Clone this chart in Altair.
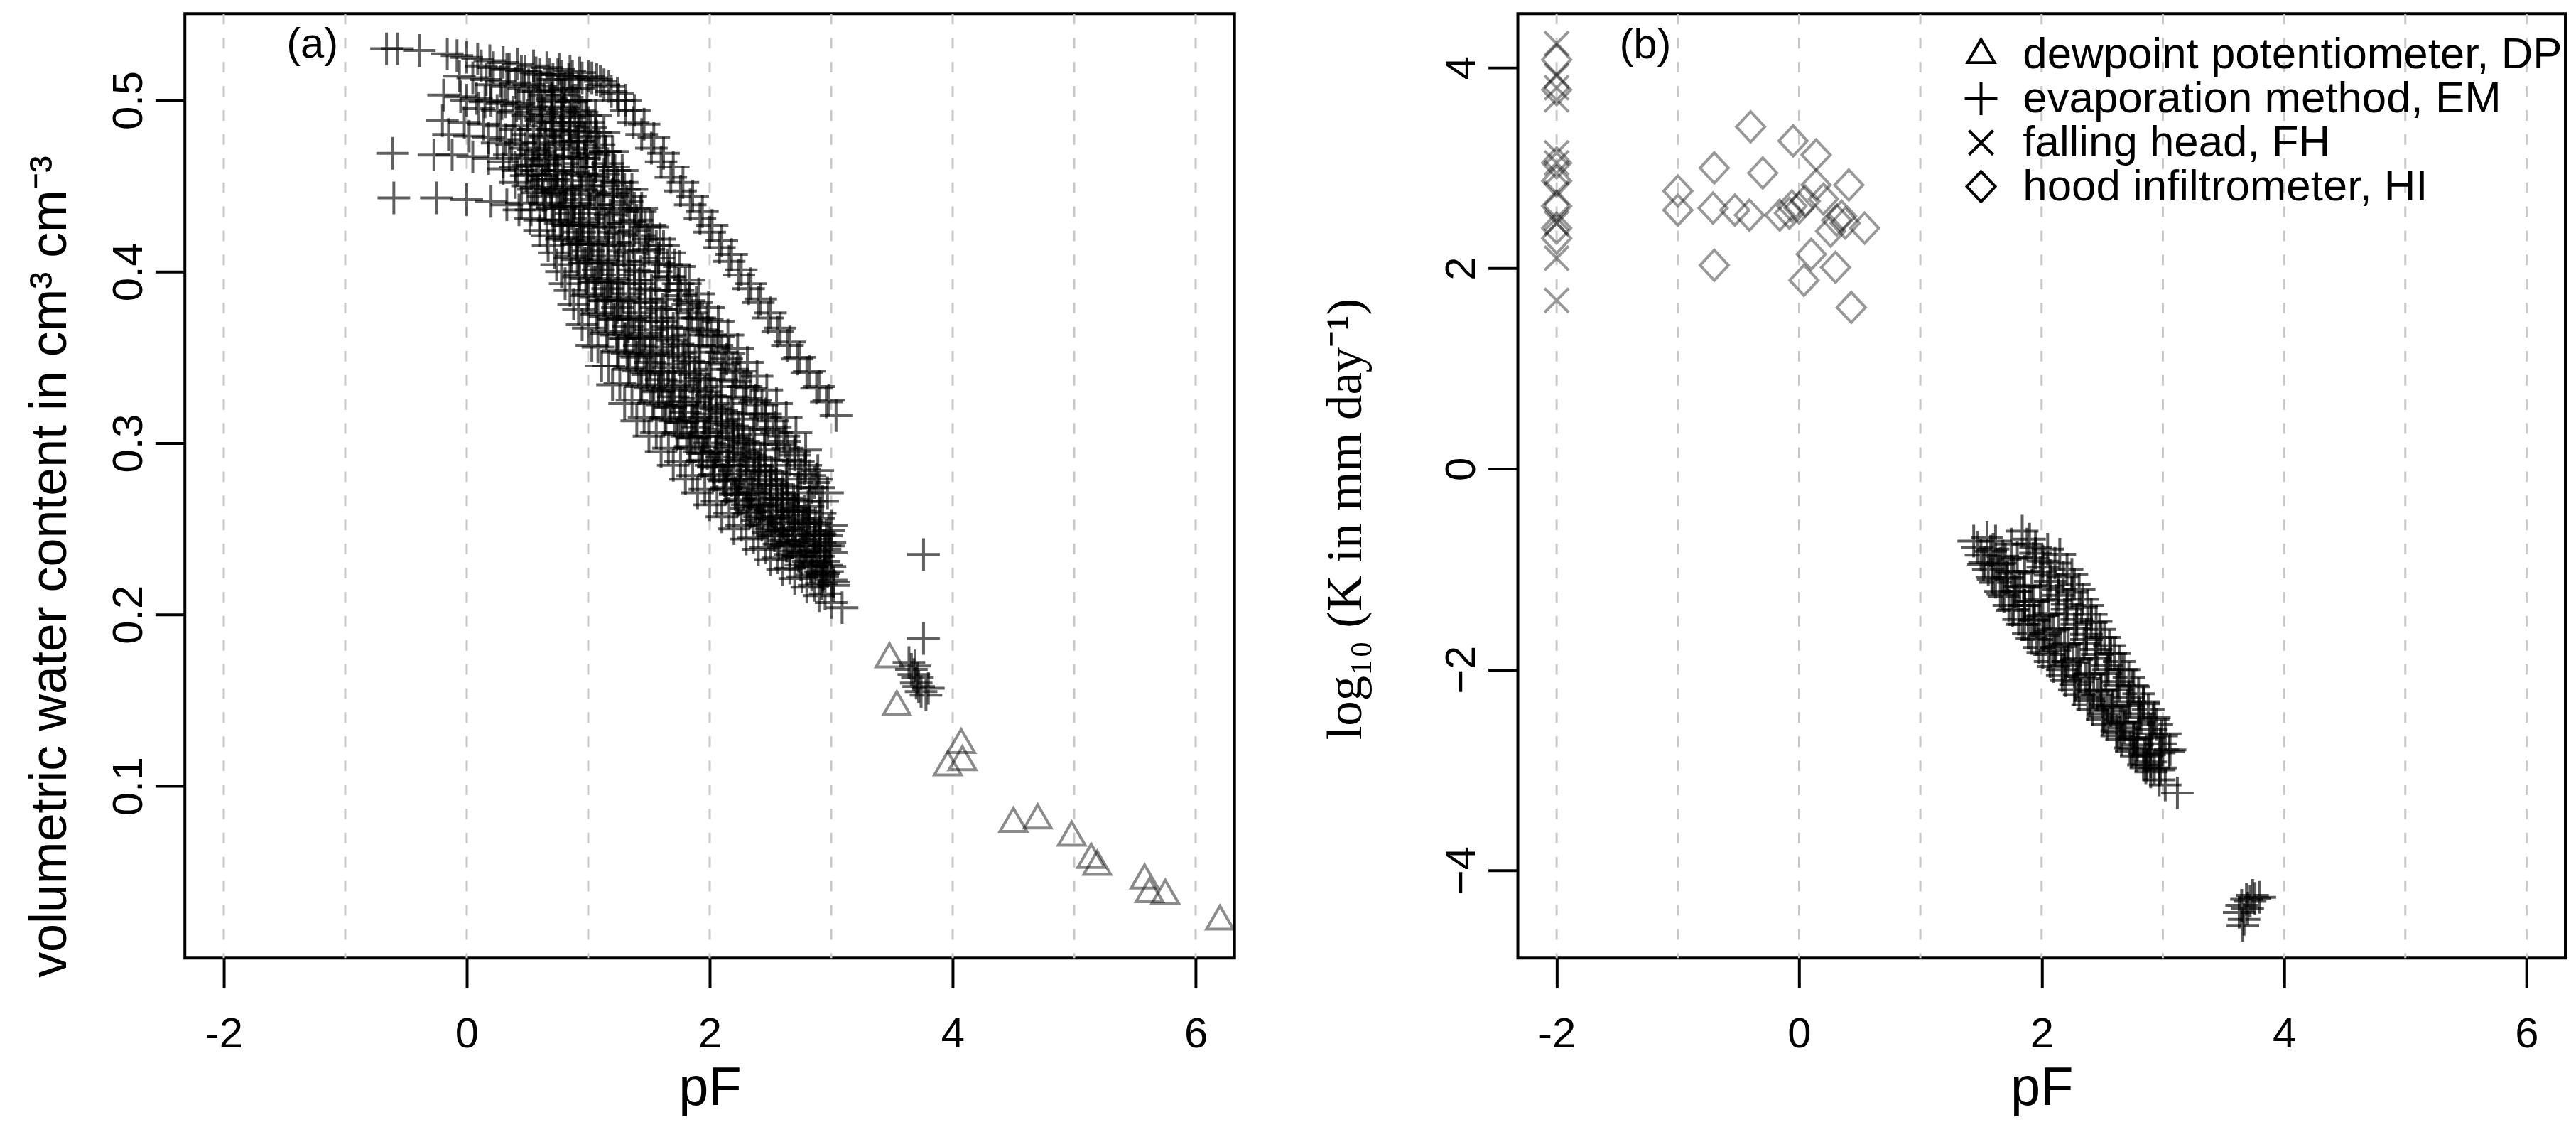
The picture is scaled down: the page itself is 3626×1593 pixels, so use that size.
import altair as alt
import pandas as pd

# ---------------- axes / labels ----------------
grid_pf = [-2, -1, 0, 1, 2, 3, 4, 5, 6]
x_ticks = [-2, 0, 2, 4, 6]
theta_ticks = [0.1, 0.2, 0.3, 0.4, 0.5]
logk_ticks = [-4, -2, 0, 2, 4]
methods = ["dewpoint potentiometer, DP", "evaporation method, EM",
           "falling head, FH", "hood infiltrometer, HI"]
panel_a_tag = ["(a)"]
panel_b_tag = ["(b)"]

# ---------------- panel (a): evaporation method retention curves (pF, theta) ----------------
em_a_c1 = [(-0.66, .530), (-0.57, .530), (-0.39, .529), (-0.16, .527), (-0.08, .526), (0.00, .525),
           (0.09, .524), (0.19, .523), (0.30, .522), (0.42, .521), (0.55, .520), (0.66, .519),
           (0.76, .518), (0.85, .517), (0.93, .516), (1.00, .514), (1.07, .512), (1.13, .509),
           (1.19, .505), (1.25, .500), (1.31, .494), (1.37, .487), (1.44, .480), (1.52, .472),
           (1.60, .464), (1.68, .455), (1.76, .447), (1.84, .439), (1.92, .431), (2.00, .423),
           (2.08, .414), (2.16, .406), (2.24, .398), (2.32, .390), (2.40, .382), (2.48, .373),
           (2.56, .365), (2.64, .357), (2.72, .349), (2.80, .341), (2.88, .332), (2.96, .324),
           (3.04, .316)]
em_a_c2 = [(0.12, .520), (0.22, .519), (0.33, .518), (0.45, .517), (0.57, .516), (0.68, .515),
           (0.78, .514), (0.87, .514), (0.95, .513), (1.03, .513), (1.10, .511), (1.17, .508),
           (1.24, .504), (1.31, .500), (1.38, .494), (1.46, .486), (1.54, .478), (1.62, .469),
           (1.70, .461), (1.78, .452), (1.86, .444), (1.94, .435), (2.02, .427), (2.10, .418),
           (2.18, .410), (2.26, .401), (2.34, .393), (2.42, .384), (2.50, .376), (2.58, .367),
           (2.66, .359), (2.74, .350), (2.82, .342), (2.90, .333), (2.98, .325)]
em_a_c3 = [(-0.06, .514), (0.05, .513), (0.16, .512), (0.28, .511), (0.40, .510), (0.51, .509),
           (0.61, .508), (0.70, .506), (0.78, .503), (0.86, .499), (0.93, .494), (1.00, .487),
           (1.07, .479), (1.14, .470), (1.21, .461), (1.28, .452), (1.35, .444), (1.43, .435),
           (1.51, .427), (1.59, .419), (1.67, .411), (1.75, .403), (1.83, .395), (1.91, .387),
           (1.99, .379), (2.07, .371), (2.15, .363), (2.23, .355), (2.31, .347), (2.39, .339),
           (2.47, .331), (2.55, .323), (2.63, .315), (2.71, .306), (2.79, .296), (2.89, .284)]
em_a_c4 = [(-0.19, .503), (-0.05, .502), (0.08, .501), (0.20, .500), (0.32, .499), (0.43, .498),
           (0.53, .496), (0.62, .494), (0.70, .491), (0.78, .487), (0.85, .482), (0.92, .476),
           (0.99, .469), (1.06, .461), (1.13, .453), (1.20, .445), (1.27, .437), (1.34, .429),
           (1.42, .421), (1.50, .413), (1.58, .405), (1.66, .397), (1.74, .389), (1.82, .381),
           (1.90, .373), (1.98, .365), (2.06, .357), (2.14, .349), (2.22, .341), (2.30, .333),
           (2.38, .325), (2.46, .317), (2.54, .309), (2.62, .301), (2.70, .293), (2.78, .285),
           (2.86, .277)]
em_a_c5 = [(-0.60, .443), (-0.25, .443), (0.00, .442), (0.20, .441), (0.33, .439), (0.43, .436),
           (0.52, .431), (0.60, .424), (0.67, .415), (0.74, .404), (0.81, .393), (0.88, .381),
           (0.95, .369), (1.03, .357), (1.11, .345), (1.20, .334), (1.30, .323), (1.40, .313),
           (1.50, .304), (1.60, .295), (1.70, .287), (1.80, .279), (1.90, .271), (2.00, .264),
           (2.10, .257), (2.20, .250), (2.30, .244), (2.40, .238), (2.50, .232), (2.60, .226),
           (2.70, .221), (2.80, .216), (2.90, .211), (3.00, .207), (3.09, .204)]
em_a_c6 = [(-0.61, .469), (-0.27, .468), (-0.12, .468), (0.05, .467), (0.18, .466), (0.30, .464),
           (0.40, .461), (0.49, .456), (0.57, .449), (0.64, .440), (0.71, .430), (0.78, .419),
           (0.85, .408), (0.92, .397), (0.99, .386), (1.07, .375), (1.15, .364), (1.24, .353),
           (1.33, .343), (1.43, .333), (1.53, .323), (1.63, .314), (1.73, .305), (1.83, .297),
           (1.93, .289), (2.03, .281), (2.13, .273), (2.23, .266), (2.33, .259), (2.43, .252),
           (2.53, .246), (2.63, .240), (2.73, .234), (2.83, .228), (2.93, .222), (3.02, .217)]
em_a_c7 = [(-0.20, .488), (-0.02, .487), (0.14, .486), (0.28, .485), (0.40, .483), (0.50, .480),
           (0.59, .475), (0.67, .468), (0.74, .459), (0.81, .449), (0.88, .438), (0.95, .427),
           (1.02, .416), (1.10, .405), (1.18, .394), (1.26, .383), (1.35, .372), (1.44, .362),
           (1.53, .352), (1.62, .342), (1.71, .333), (1.80, .324), (1.89, .315), (1.98, .306),
           (2.07, .298), (2.16, .290), (2.25, .282), (2.34, .274), (2.43, .267), (2.52, .260),
           (2.61, .253), (2.70, .246), (2.79, .240), (2.88, .234), (2.96, .229)]
em_a_c8 = [(-0.15, .480), (0.02, .479), (0.18, .478), (0.32, .477), (0.44, .475), (0.55, .471),
           (0.64, .465), (0.72, .457), (0.79, .448), (0.86, .438), (0.93, .427), (1.00, .416),
           (1.08, .405), (1.16, .394), (1.24, .383), (1.33, .372), (1.42, .361), (1.51, .351),
           (1.60, .341), (1.69, .331), (1.78, .322), (1.87, .313), (1.96, .304), (2.05, .295),
           (2.14, .287), (2.23, .279), (2.32, .271), (2.41, .263), (2.50, .256), (2.59, .249),
           (2.68, .242), (2.77, .236), (2.86, .230), (2.94, .224)]
em_a_c9 = [(0.00, .500), (0.15, .499), (0.29, .498), (0.41, .497), (0.52, .495), (0.62, .492),
           (0.71, .487), (0.79, .480), (0.86, .471), (0.93, .461), (1.00, .450), (1.07, .439),
           (1.14, .428), (1.22, .417), (1.30, .406), (1.38, .395), (1.47, .384), (1.56, .373),
           (1.65, .362), (1.74, .352), (1.83, .342), (1.92, .332), (2.01, .322), (2.10, .313),
           (2.19, .304), (2.28, .295), (2.37, .287), (2.46, .279), (2.55, .271), (2.64, .263),
           (2.73, .256), (2.82, .249), (2.91, .242), (3.00, .236)]
em_a_c10 = [(0.10, .495), (0.25, .494), (0.38, .493), (0.50, .491), (0.61, .488), (0.71, .483),
            (0.80, .476), (0.88, .467), (0.95, .457), (1.02, .447), (1.09, .437), (1.17, .426),
            (1.25, .415), (1.33, .404), (1.42, .393), (1.51, .382), (1.60, .371), (1.69, .360),
            (1.78, .350), (1.87, .340), (1.96, .330), (2.05, .320), (2.14, .311), (2.23, .302),
            (2.32, .293), (2.41, .284), (2.50, .276), (2.59, .268), (2.68, .260), (2.77, .253),
            (2.86, .246), (2.95, .240)]
em_a_c11 = [(0.20, .509), (0.34, .508), (0.47, .507), (0.59, .505), (0.70, .501), (0.80, .495),
            (0.89, .487), (0.97, .478), (1.05, .468), (1.13, .457), (1.21, .446), (1.29, .435),
            (1.38, .424), (1.47, .412), (1.56, .400), (1.65, .389), (1.74, .378), (1.83, .367),
            (1.92, .357), (2.01, .347), (2.10, .337), (2.19, .327), (2.28, .317), (2.37, .308),
            (2.46, .299), (2.55, .290), (2.64, .282), (2.73, .274), (2.82, .266), (2.91, .259),
            (3.00, .252)]
em_a_c12 = [(0.30, .460), (0.42, .459), (0.53, .457), (0.62, .453), (0.70, .446), (0.77, .437),
            (0.84, .427), (0.91, .416), (0.98, .405), (1.06, .394), (1.14, .383), (1.22, .372),
            (1.31, .361), (1.40, .350), (1.49, .340), (1.58, .330), (1.67, .321), (1.76, .312),
            (1.85, .303), (1.94, .294), (2.03, .286), (2.12, .278), (2.21, .270), (2.30, .262),
            (2.39, .255), (2.48, .248), (2.57, .241), (2.66, .235), (2.75, .229), (2.84, .223),
            (2.92, .218)]
em_a_c13 = [(0.35, .518), (0.48, .517), (0.60, .515), (0.71, .512), (0.81, .507), (0.90, .500),
            (0.98, .491), (1.06, .481), (1.14, .470), (1.22, .459), (1.30, .448), (1.38, .437),
            (1.47, .426), (1.56, .415), (1.65, .404), (1.74, .393), (1.83, .383), (1.92, .373),
            (2.01, .363), (2.10, .353), (2.19, .343), (2.28, .333), (2.37, .324), (2.46, .315),
            (2.55, .306), (2.64, .297), (2.73, .289), (2.82, .281), (2.90, .274)]
em_a_c14 = [(0.40, .452), (0.50, .450), (0.58, .446), (0.65, .439), (0.72, .430), (0.79, .420),
            (0.86, .409), (0.93, .398), (1.00, .387), (1.08, .376), (1.16, .365), (1.25, .354),
            (1.34, .344), (1.44, .334), (1.54, .324), (1.64, .315), (1.74, .306), (1.84, .298),
            (1.94, .290), (2.04, .282), (2.14, .274), (2.24, .267), (2.34, .260), (2.44, .253),
            (2.54, .246), (2.64, .240), (2.74, .234), (2.84, .228), (2.93, .223), (3.02, .219)]
em_a_c15 = [(0.55, .505), (0.64, .503), (0.72, .499), (0.79, .493), (0.85, .485), (0.91, .476),
            (0.97, .466), (1.04, .455), (1.11, .444), (1.18, .433), (1.26, .422), (1.34, .411),
            (1.43, .400), (1.52, .389), (1.61, .378), (1.70, .367), (1.79, .357), (1.88, .347),
            (1.97, .337), (2.06, .327), (2.15, .318), (2.24, .309), (2.33, .300), (2.42, .291),
            (2.51, .283), (2.60, .275), (2.69, .267), (2.78, .260), (2.87, .253), (2.96, .246)]
em_a_c16 = [(0.25, .475), (0.37, .474), (0.48, .472), (0.57, .468), (0.65, .462), (0.72, .454),
            (0.79, .445), (0.86, .434), (0.93, .423), (1.00, .412), (1.08, .401), (1.16, .390),
            (1.24, .379), (1.33, .368), (1.42, .357), (1.51, .347), (1.60, .337), (1.70, .327),
            (1.80, .318), (1.90, .309), (2.00, .300), (2.10, .292), (2.20, .284), (2.30, .276),
            (2.40, .268), (2.50, .261), (2.60, .254), (2.70, .247), (2.80, .240), (2.90, .234),
            (2.99, .228)]
em_a_c17 = [(0.60, .490), (0.69, .487), (0.77, .482), (0.84, .475), (0.91, .466), (0.98, .456),
            (1.05, .445), (1.13, .434), (1.21, .423), (1.29, .412), (1.38, .401), (1.47, .390),
            (1.56, .379), (1.65, .368), (1.74, .358), (1.83, .348), (1.92, .338), (2.01, .328),
            (2.10, .319), (2.19, .310), (2.28, .301), (2.37, .292), (2.46, .284), (2.55, .276),
            (2.64, .268), (2.73, .261), (2.82, .254), (2.91, .247)]
em_a_c18 = [(0.45, .440), (0.53, .436), (0.60, .430), (0.66, .421), (0.72, .411), (0.78, .400),
            (0.85, .389), (0.92, .378), (1.00, .367), (1.08, .356), (1.17, .345), (1.26, .335),
            (1.36, .325), (1.46, .315), (1.56, .306), (1.66, .297), (1.76, .289), (1.86, .281),
            (1.96, .273), (2.06, .266), (2.16, .259), (2.26, .252), (2.36, .245), (2.46, .239),
            (2.56, .233), (2.66, .227), (2.76, .222), (2.86, .217), (2.95, .212)]
em_a_c19 = [(0.75, .515), (0.84, .512), (0.92, .507), (0.99, .500), (1.06, .491), (1.13, .481),
            (1.20, .470), (1.28, .459), (1.36, .448), (1.44, .437), (1.53, .426), (1.62, .415),
            (1.71, .404), (1.80, .393), (1.89, .382), (1.98, .372), (2.07, .362), (2.16, .352),
            (2.25, .342), (2.34, .332), (2.43, .322), (2.52, .313), (2.61, .304), (2.70, .295),
            (2.79, .287), (2.88, .279), (2.97, .271)]
em_a_c20 = [(0.65, .478), (0.73, .474), (0.80, .467), (0.87, .458), (0.94, .448), (1.01, .437),
            (1.09, .426), (1.17, .415), (1.25, .404), (1.34, .393), (1.43, .382), (1.52, .371),
            (1.61, .361), (1.70, .351), (1.80, .341), (1.90, .331), (2.00, .321), (2.10, .312),
            (2.20, .303), (2.30, .294), (2.40, .286), (2.50, .278), (2.60, .270), (2.70, .262),
            (2.80, .255), (2.90, .248), (2.99, .242)]
em_a_c21 = [(0.50, .462), (0.59, .459), (0.67, .454), (0.74, .447), (0.81, .438), (0.88, .428),
            (0.95, .417), (1.03, .406), (1.11, .395), (1.19, .384), (1.28, .373), (1.37, .362),
            (1.46, .352), (1.55, .342), (1.65, .332), (1.75, .322), (1.85, .313), (1.95, .304),
            (2.05, .295), (2.15, .287), (2.25, .279), (2.35, .271), (2.45, .264), (2.55, .257),
            (2.65, .250), (2.75, .243), (2.85, .237), (2.94, .231)]
em_a_c22 = [(0.70, .500), (0.78, .496), (0.85, .490), (0.92, .482), (0.99, .472), (1.06, .461),
            (1.13, .450), (1.21, .439), (1.29, .428), (1.37, .417), (1.46, .406), (1.55, .395),
            (1.64, .384), (1.73, .373), (1.82, .363), (1.91, .353), (2.00, .343), (2.09, .333),
            (2.18, .323), (2.27, .314), (2.36, .305), (2.45, .296), (2.54, .287), (2.63, .279),
            (2.72, .271), (2.81, .263), (2.90, .256), (2.98, .249)]
em_a_c23 = [(0.35, .468), (0.45, .466), (0.54, .462), (0.62, .456), (0.69, .448), (0.76, .438),
            (0.83, .427), (0.90, .416), (0.97, .405), (1.05, .394), (1.13, .383), (1.21, .372),
            (1.30, .361), (1.39, .351), (1.48, .341), (1.58, .331), (1.68, .321), (1.78, .312),
            (1.88, .303), (1.98, .294), (2.08, .286), (2.18, .278), (2.28, .270), (2.38, .263),
            (2.48, .256), (2.58, .249), (2.68, .242), (2.78, .236), (2.88, .230), (2.97, .225)]
em_a_c24 = [(0.45, .485), (0.55, .483), (0.64, .479), (0.72, .472), (0.79, .463), (0.86, .453),
            (0.93, .442), (1.00, .431), (1.08, .420), (1.16, .409), (1.24, .398), (1.33, .387),
            (1.42, .376), (1.51, .366), (1.60, .356), (1.70, .346), (1.80, .336), (1.90, .326),
            (2.00, .317), (2.10, .308), (2.20, .299), (2.30, .291), (2.40, .283), (2.50, .275),
            (2.60, .267), (2.70, .260), (2.80, .253), (2.90, .246), (2.98, .240)]
em_a_c25 = [(0.55, .448), (0.63, .444), (0.70, .437), (0.77, .428), (0.84, .418), (0.91, .407),
            (0.98, .396), (1.06, .385), (1.14, .374), (1.23, .363), (1.32, .352), (1.41, .342),
            (1.51, .332), (1.61, .322), (1.71, .313), (1.81, .304), (1.91, .295), (2.01, .287),
            (2.11, .279), (2.21, .271), (2.31, .264), (2.41, .257), (2.51, .250), (2.61, .243),
            (2.71, .237), (2.81, .231), (2.91, .225), (3.00, .220)]
em_a_c26 = [(0.80, .505), (0.88, .500), (0.95, .493), (1.02, .484), (1.09, .474), (1.16, .463),
            (1.24, .452), (1.32, .441), (1.40, .430), (1.49, .419), (1.58, .408), (1.67, .397),
            (1.76, .386), (1.85, .376), (1.94, .366), (2.03, .356), (2.12, .346), (2.21, .336),
            (2.30, .326), (2.39, .317), (2.48, .308), (2.57, .299), (2.66, .290), (2.75, .282),
            (2.84, .274), (2.93, .266)]
em_a_c27 = [(0.60, .470), (0.68, .466), (0.75, .459), (0.82, .450), (0.89, .440), (0.96, .429),
            (1.04, .418), (1.12, .407), (1.20, .396), (1.29, .385), (1.38, .374), (1.47, .364),
            (1.56, .354), (1.66, .344), (1.76, .334), (1.86, .324), (1.96, .315), (2.06, .306),
            (2.16, .297), (2.26, .289), (2.36, .281), (2.46, .273), (2.56, .265), (2.66, .258),
            (2.76, .251), (2.86, .244), (2.95, .238)]
em_a_dry = [(3.76, .235), (3.76, .186), (3.64, .172), (3.66, .168), (3.68, .165), (3.71, .163),
            (3.70, .160), (3.72, .158), (3.74, .155), (3.78, .153), (3.80, .157), (3.69, .170)]

# dewpoint potentiometer (pF, theta)
dp_a = [(3.48, .174), (3.54, .146), (4.07, .124), (3.96, .111), (4.08, .114), (4.50, .078),
        (4.70, .080), (4.98, .070), (5.14, .057), (5.19, .053), (5.58, .045), (5.62, .037),
        (5.75, .036), (6.20, .021)]

# ---------------- panel (b): conductivity (pF, log10 K) ----------------
em_b_c1 = [(1.44, -0.72), (1.50, -0.86), (1.56, -1.00), (1.62, -1.13), (1.69, -1.27), (1.76, -1.41),
           (1.84, -1.55), (1.92, -1.69), (2.01, -1.83), (2.10, -1.97), (2.20, -2.11), (2.31, -2.25),
           (2.42, -2.40), (2.54, -2.55), (2.66, -2.70), (2.78, -2.86), (2.90, -3.02), (3.02, -3.15)]
em_b_c2 = [(1.47, -0.78), (1.53, -0.93), (1.59, -1.08), (1.66, -1.22), (1.73, -1.36), (1.81, -1.50),
           (1.89, -1.64), (1.98, -1.78), (2.07, -1.92), (2.17, -2.06), (2.27, -2.20), (2.38, -2.35),
           (2.50, -2.50), (2.62, -2.66), (2.74, -2.82), (2.86, -2.98), (2.97, -3.10), (3.12, -3.23)]
em_b_c3 = [(1.58, -0.82), (1.64, -0.95), (1.71, -1.09), (1.78, -1.22), (1.86, -1.36), (1.94, -1.50),
           (2.03, -1.64), (2.12, -1.78), (2.22, -1.92), (2.32, -2.07), (2.43, -2.22), (2.54, -2.38),
           (2.65, -2.54), (2.76, -2.70), (2.87, -2.86), (2.97, -3.00)]
em_b_c4 = [(1.84, -0.62), (1.88, -0.75), (1.93, -0.89), (1.99, -1.03), (2.05, -1.17), (2.12, -1.31),
           (2.19, -1.45), (2.27, -1.59), (2.35, -1.74), (2.44, -1.89), (2.53, -2.04), (2.62, -2.20),
           (2.71, -2.36), (2.80, -2.52), (2.89, -2.68), (2.97, -2.83)]
em_b_c5 = [(1.90, -0.70), (1.95, -0.84), (2.01, -0.98), (2.07, -1.12), (2.14, -1.26), (2.21, -1.40),
           (2.29, -1.55), (2.37, -1.70), (2.46, -1.85), (2.55, -2.00), (2.64, -2.16), (2.73, -2.32),
           (2.82, -2.48), (2.91, -2.64), (3.00, -2.80)]
em_b_c6 = [(2.05, -0.80), (2.11, -0.94), (2.18, -1.08), (2.25, -1.23), (2.33, -1.38), (2.41, -1.53),
           (2.49, -1.68), (2.57, -1.84), (2.66, -2.00), (2.75, -2.16), (2.84, -2.32), (2.93, -2.48),
           (3.02, -2.64), (3.06, -2.80)]
em_b_c7 = [(1.52, -0.95), (1.60, -1.10), (1.68, -1.25), (1.77, -1.40), (1.86, -1.55), (1.96, -1.70),
           (2.06, -1.85), (2.17, -2.00), (2.28, -2.15), (2.40, -2.31), (2.52, -2.47), (2.64, -2.63),
           (2.76, -2.79), (2.87, -2.95)]
em_b_c8 = [(1.70, -0.90), (1.77, -1.04), (1.85, -1.18), (1.93, -1.32), (2.01, -1.46), (2.10, -1.60),
           (2.19, -1.75), (2.29, -1.90), (2.39, -2.05), (2.49, -2.21), (2.59, -2.37), (2.69, -2.53),
           (2.79, -2.69), (2.89, -2.85), (2.98, -2.98)]
em_b_c9 = [(2.15, -0.85), (2.21, -1.00), (2.27, -1.15), (2.34, -1.30), (2.41, -1.45), (2.48, -1.60),
           (2.56, -1.76), (2.64, -1.92), (2.72, -2.08), (2.80, -2.24), (2.88, -2.40), (2.95, -2.55)]
em_b_c10 = [(1.62, -0.72), (1.68, -0.87), (1.75, -1.02), (1.82, -1.17), (1.90, -1.32), (1.98, -1.47),
            (2.07, -1.62), (2.16, -1.77), (2.26, -1.93), (2.36, -2.09), (2.46, -2.25), (2.57, -2.41),
            (2.68, -2.58), (2.79, -2.75), (2.90, -2.92)]
em_b_c11 = [(1.55, -0.68), (1.60, -0.80), (1.66, -0.94), (1.72, -1.08), (1.79, -1.22), (1.86, -1.36),
            (1.94, -1.51), (2.02, -1.66), (2.11, -1.81), (2.20, -1.96), (2.30, -2.12), (2.40, -2.28),
            (2.51, -2.44), (2.62, -2.61), (2.73, -2.78), (2.84, -2.95)]
em_b_c12 = [(1.95, -0.78), (2.01, -0.92), (2.07, -1.06), (2.14, -1.20), (2.21, -1.35), (2.29, -1.50),
            (2.37, -1.65), (2.45, -1.80), (2.54, -1.96), (2.63, -2.12), (2.72, -2.28), (2.81, -2.44),
            (2.90, -2.60), (2.98, -2.74)]
em_b_c13 = [(1.75, -0.75), (1.80, -0.88), (1.86, -1.02), (1.92, -1.16), (1.99, -1.30), (2.06, -1.44),
            (2.14, -1.59), (2.22, -1.74), (2.31, -1.89), (2.40, -2.04), (2.49, -2.20), (2.58, -2.36),
            (2.67, -2.52), (2.76, -2.68), (2.85, -2.84), (2.93, -2.98)]
em_b_c14 = [(2.25, -1.05), (2.31, -1.20), (2.38, -1.36), (2.45, -1.52), (2.52, -1.68), (2.60, -1.84),
            (2.68, -2.00), (2.76, -2.17), (2.84, -2.34), (2.92, -2.50), (2.99, -2.66), (3.05, -2.82)]
em_b_dry = [(3.65, -4.35), (3.69, -4.29), (3.76, -4.28), (3.80, -4.27), (3.67, -4.49), (3.63, -4.42),
            (3.72, -4.31), (3.74, -4.25), (3.70, -4.38), (3.66, -4.55)]

# falling head (saturated, pF = -2)
fh_pf = [-2] * 12
fh_logk = [4.24, 3.92, 3.80, 3.68, 3.15, 3.05, 2.95, 2.75, 2.50, 2.45, 2.10, 1.68]

# hood infiltrometer (pF, log10 K)
hi_b = [(-2.0, 4.08), (-2.0, 3.78), (-2.0, 3.05), (-2.0, 2.87), (-2.0, 2.62), (-2.0, 2.40),
        (-2.0, 2.30), (-0.40, 3.41), (-0.05, 3.27), (0.14, 3.13), (-0.70, 3.00), (-0.30, 2.95),
        (-1.00, 2.77), (-1.00, 2.58), (-0.71, 2.60), (-0.53, 2.58), (-0.41, 2.53), (-0.16, 2.53),
        (-0.06, 2.62), (0.14, 2.83), (0.41, 2.83), (0.20, 2.69), (0.31, 2.48), (0.26, 2.37),
        (0.54, 2.40), (0.10, 2.14), (0.30, 2.01), (0.04, 1.88), (0.43, 1.61), (-0.70, 2.03),
        (-0.08, 2.55), (0.00, 2.60), (0.05, 2.67), (0.35, 2.52), (0.38, 2.45)]

# ---------------- build tables ----------------
em_a_curves = [em_a_c1, em_a_c2, em_a_c3, em_a_c4, em_a_c5, em_a_c6, em_a_c7, em_a_c8,
               em_a_c9, em_a_c10, em_a_c11, em_a_c12, em_a_c13, em_a_c14, em_a_c15,
               em_a_c16, em_a_c17, em_a_c18, em_a_c19, em_a_c20, em_a_c21, em_a_c22,
               em_a_c23, em_a_c24, em_a_c25, em_a_c26, em_a_c27, em_a_dry]
em_a = pd.DataFrame([(p, t) for c in em_a_curves for p, t in c], columns=["pF", "theta"])
dp_df = pd.DataFrame(dp_a, columns=["pF", "theta"])

em_b_curves = [em_b_c1, em_b_c2, em_b_c3, em_b_c4, em_b_c5, em_b_c6, em_b_c7, em_b_c8,
               em_b_c9, em_b_c10, em_b_c11, em_b_c12, em_b_c13, em_b_c14, em_b_dry]
em_b = pd.DataFrame([(p, k) for c in em_b_curves for p, k in c], columns=["pF", "logK"])
em_b["method"] = methods[1]
fh_df = pd.DataFrame({"pF": fh_pf, "logK": fh_logk, "method": methods[2]})
hi_df = pd.DataFrame(hi_b, columns=["pF", "logK"])
hi_df["method"] = methods[3]
grid_df = pd.DataFrame({"pF": grid_pf})

# ---------------- style ----------------
SANS = "Liberation Sans"
SERIF = "Liberation Serif"
FS = 60
TICK = 42
W_A, W_B, H = 1482, 1479, 1333
MSIZE = 2116
SW = 4

PLUS = "M-1,0L1,0M0,-1L0,1"
TRI = "M0,-0.95L0.826,0.477L-0.826,0.477Z"
XMARK = "M-0.74,-0.74L0.74,0.74M-0.74,0.74L0.74,-0.74"
DIAM = "M0,-0.93L0.87,0L0,0.93L-0.87,0Z"

x_scale = alt.Scale(domain=[-2.32, 6.32], nice=False, zero=False)
ya_scale = alt.Scale(domain=[-0.0004, 0.5504], nice=False, zero=False)
yb_scale = alt.Scale(domain=[-4.876, 4.537], nice=False, zero=False)

x_axis = alt.Axis(values=x_ticks, title="pF", grid=False, domain=False,
                  ticks=True, tickSize=TICK, tickWidth=4, tickColor="black",
                  labelFont=SANS, labelFontSize=FS, labelColor="black",
                  labelBaseline="middle", labelPadding=66,
                  labelExpr="datum.value < 0 ? '-' + (-datum.value) : '' + datum.value",
                  titleFont=SANS, titleFontSize=76, titleFontWeight="normal",
                  titleColor="black", titleBaseline="alphabetic", titleY=207)


def y_axis(vals, title, tfont, tsize, tx, ty, fmt):
    return alt.Axis(values=vals, title=title, grid=False, domain=False, format=fmt,
                    ticks=True, tickSize=TICK, tickWidth=4, tickColor="black",
                    labelFont=SANS, labelFontSize=FS, labelColor="black",
                    labelAngle=270, labelAlign="center", labelBaseline="middle",
                    labelPadding=37,
                    titleFont=tfont, titleFontSize=tsize, titleFontWeight="normal",
                    titleColor="black", titleAngle=270, titleAlign="center",
                    titleBaseline="alphabetic", titleX=tx, titleY=ty)


x_enc = alt.X("pF:Q", scale=x_scale, axis=x_axis)
frame = alt.ViewBackground(stroke="black", strokeWidth=4, fill="white")


def grid_layer():
    return alt.Chart(grid_df).mark_rule(color="#c8c8c8", strokeWidth=3,
                                        strokeDash=[15, 19]).encode(x=x_enc)


# ---------------- panel (a) ----------------
ya = alt.Y("theta:Q", scale=ya_scale,
           axis=y_axis(theta_ticks, "volumetric water content in cm³ cm⁻³", SANS, 72,
                       -168, 780, ".1f"))

em_a_layer = alt.Chart(em_a).mark_point(shape=PLUS, size=MSIZE, filled=False, color="black",
                                        strokeWidth=SW, opacity=0.62, clip=True).encode(
    x=x_enc, y=ya)
dp_layer = alt.Chart(dp_df).mark_point(shape=TRI, size=MSIZE, filled=False, color="black",
                                       strokeWidth=SW, opacity=0.45, clip=True).encode(
    x=x_enc, y=ya)
tag_a = alt.Chart(pd.DataFrame({"tag": panel_a_tag})).mark_text(
    font=SANS, fontSize=FS, color="black", align="center", baseline="alphabetic").encode(
    text="tag:N", x=alt.value(180), y=alt.value(62))

panel_a = alt.layer(grid_layer(), em_a_layer, dp_layer, tag_a).properties(
    width=W_A, height=H, view=frame)

# ---------------- panel (b) ----------------
yb = alt.Y("logK:Q", scale=yb_scale,
           axis=y_axis(logk_ticks, "log₁₀ (K in mm day⁻¹)", SERIF, 71, -222, 713, "d"))
shape_scale = alt.Scale(domain=methods, range=[TRI, PLUS, XMARK, DIAM])
legend_b = alt.Legend(orient="none", legendX=623, legendY=27, title=None,
                      labelFont=SANS, labelFontSize=62, labelColor="black", labelLimit=3000,
                      symbolSize=MSIZE, symbolStrokeWidth=SW, symbolStrokeColor="black",
                      symbolOpacity=1, symbolFillColor="transparent",
                      rowPadding=-4, labelOffset=28, padding=0)
shape_b = alt.Shape("method:N", scale=shape_scale, legend=legend_b)

em_b_layer = alt.Chart(em_b).mark_point(size=MSIZE, filled=False, color="black",
                                        strokeWidth=SW, opacity=0.65, clip=True).encode(
    x=x_enc, y=yb, shape=shape_b)
fh_layer = alt.Chart(fh_df).mark_point(size=MSIZE, filled=False, color="black",
                                       strokeWidth=SW, opacity=0.4, clip=True).encode(
    x=x_enc, y=yb, shape=shape_b)
hi_layer = alt.Chart(hi_df).mark_point(size=MSIZE, filled=False, color="black",
                                       strokeWidth=SW, opacity=0.4, clip=True).encode(
    x=x_enc, y=yb, shape=shape_b)
tag_b = alt.Chart(pd.DataFrame({"tag": panel_b_tag})).mark_text(
    font=SANS, fontSize=FS, color="black", align="center", baseline="alphabetic").encode(
    text="tag:N", x=alt.value(180), y=alt.value(63))

panel_b = alt.layer(grid_layer(), fh_layer, hi_layer, em_b_layer, tag_b).properties(
    width=W_B, height=H, view=frame)

chart = alt.hconcat(panel_a, panel_b, spacing=117).resolve_scale(
    shape="independent").resolve_legend(shape="independent").properties(
    padding={"left": 24, "top": 5, "right": 5, "bottom": 5}
).configure_view(stroke="black", strokeWidth=4).configure(background="white")

chart.save("out.html", embed_options={"renderer": "svg", "actions": False})
